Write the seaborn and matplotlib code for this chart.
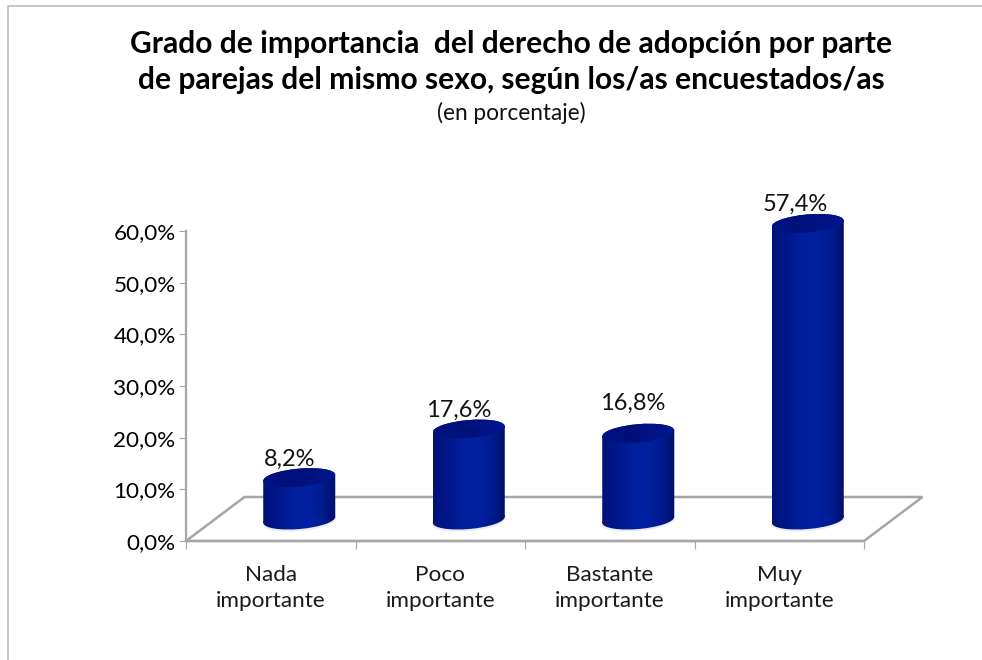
import numpy as np
import matplotlib
matplotlib.use('Agg')
import matplotlib.pyplot as plt
import seaborn as sns
from matplotlib.colors import LinearSegmentedColormap
from matplotlib.lines import Line2D
from matplotlib.path import Path
from matplotlib.patches import Ellipse, Polygon
from matplotlib.transforms import IdentityTransform, ScaledTranslation

# Data
categorias = ['Nada\nimportante', 'Poco\nimportante', 'Bastante\nimportante', 'Muy\nimportante']
valores = [8.2, 17.6, 16.8, 57.4]
y_ticks = [0, 10, 20, 30, 40, 50, 60]

GRIS = '#a6a6a6'
W, H = 982, 660

sns.set_theme(style='white')
plt.rcParams['font.family'] = ['Lato', 'DejaVu Sans']

fig = plt.figure(figsize=(W / 100, H / 100), dpi=100)
ax = fig.add_axes([186 / W, 1 - 541 / H, 678 / W, 310 / H])
ax.patch.set_alpha(0)

sns.barplot(x=categorias, y=valores, color='#001a8c', width=0.425, ax=ax, zorder=3)
barras = list(ax.patches)
ax.set_xlim(-0.5, 3.5)
ax.set_ylim(0, 60)
ax.set_yticks(y_ticks)
ax.set_yticklabels([f'{t:.1f}%'.replace('.', ',') for t in y_ticks], fontsize=16.2, color='black')
ax.tick_params(axis='y', length=5, width=0.8, color=GRIS, left=True, pad=2.5)
ax.tick_params(axis='x', length=5, width=0.8, color=GRIS, bottom=False, pad=12, labelsize=16.2, labelcolor='#1a1a1a')
for t in ax.get_xticklabels():
    t.set_linespacing(1.38)

# separators under the axis sit between categories
ax.set_xticks(np.arange(-0.5, len(categorias)), minor=True)
ax.tick_params(axis='x', which='minor', length=6, width=0.8, color=GRIS, bottom=True)

sns.despine(ax=ax, top=True, right=True)
for lado in ['left', 'bottom']:
    ax.spines[lado].set_color(GRIS)
    ax.spines[lado].set_linewidth(1.6)

# floor of the 3D box, from the axis corners
c = ax.transAxes.transform([(0, 0), (1, 0), (1, 0), (0, 0)])
c[2:] += [58.5, 44]
ax.add_patch(Polygon(c, closed=True, fill=False, edgecolor=GRIS, linewidth=1.8,
                     transform=IdentityTransform(), clip_on=False, zorder=1))

# cylinders: bars moved into the depth of the box, shaded with a gradient
desplaza = ScaledTranslation(28.5 / 100, 21 / 100, fig.dpi_scale_trans)
grad = LinearSegmentedColormap.from_list('cil', ['#00127a', '#00178a', '#001f9c', '#0021a2', '#001c92', '#00106a'])
tapa = LinearSegmentedColormap.from_list('tapa', ['#001288', '#00107a', '#001282', '#001692'])
fila = np.linspace(0, 1, 256).reshape(1, -1)


def ellipse_path(cx, cy, w, h):
    e = Ellipse((cx, cy), w, h, angle=5)
    return e.get_path().transformed(e.get_patch_transform())


for barra in barras:
    barra.set_visible(False)
    x0, x1 = barra.get_x(), barra.get_x() + barra.get_width()
    (px0, py0), (px1, py1) = (ax.transData + desplaza).transform([(x0, 0), (x1, barra.get_height())])
    cx = (px0 + px1) / 2
    ancho = px1 - px0

    base = ellipse_path(cx, py0, ancho, 18)
    arriba = ellipse_path(cx, py1, ancho, 18)
    cuerpo = Path.make_compound_path(base, arriba,
                                     Path([(px0, py0 - 3), (px1, py0 + 3), (px1, py1 + 3), (px0, py1 - 3), (px0, py0 - 3)],
                                          closed=True))
    # faint shadow on the floor
    ax.add_patch(Ellipse((cx, py0 - 1.5), ancho + 2, 19, angle=5, facecolor='#ececec', edgecolor='none',
                         transform=IdentityTransform(), clip_on=False, zorder=2))

    im = ax.imshow(fila, cmap=grad, extent=(px0, px1, py0 - 12, py1 + 12), aspect='auto',
                   transform=IdentityTransform(), zorder=4, interpolation='bilinear')
    im.set_clip_box(fig.bbox)
    im.set_clip_path(cuerpo, IdentityTransform())
    im2 = ax.imshow(fila, cmap=tapa, extent=(px0, px1, py1 - 12, py1 + 12), aspect='auto',
                    transform=IdentityTransform(), zorder=5, interpolation='bilinear')
    im2.set_clip_box(fig.bbox)
    im2.set_clip_path(arriba, IdentityTransform())

ax.set_xlim(-0.5, 3.5)
ax.set_ylim(0, 60)

# value labels, hand placed as in the original
dx = [19, 18, 23, 16]
dy = [82, 131, 138, 337]
for i, v in enumerate(valores):
    ax.annotate(f'{v:.1f}%'.replace('.', ','), xy=(i, 0), xytext=(dx[i], dy[i]), textcoords='offset pixels',
                ha='center', va='center', fontsize=17, color='#111111', annotation_clip=False, zorder=6)

fig.text(511 / W, 1 - 62 / H, 'Grado de importancia  del derecho de adopción por parte\n'
         'de parejas del mismo sexo, según los/as encuestados/as',
         ha='center', va='center', fontsize=21.6, fontweight='bold', color='black', linespacing=1.35)
fig.text(511 / W, 1 - 113 / H, '(en porcentaje)', ha='center', va='center', fontsize=16.3, color='#111111')

# chart frame
fig.add_artist(Line2D([8 / W, 8 / W, 1], [0, 1 - 6 / H, 1 - 6 / H], color='#b5b5b5', linewidth=1.1))

fig.savefig('out.png', dpi=100)
plt.close(fig)
